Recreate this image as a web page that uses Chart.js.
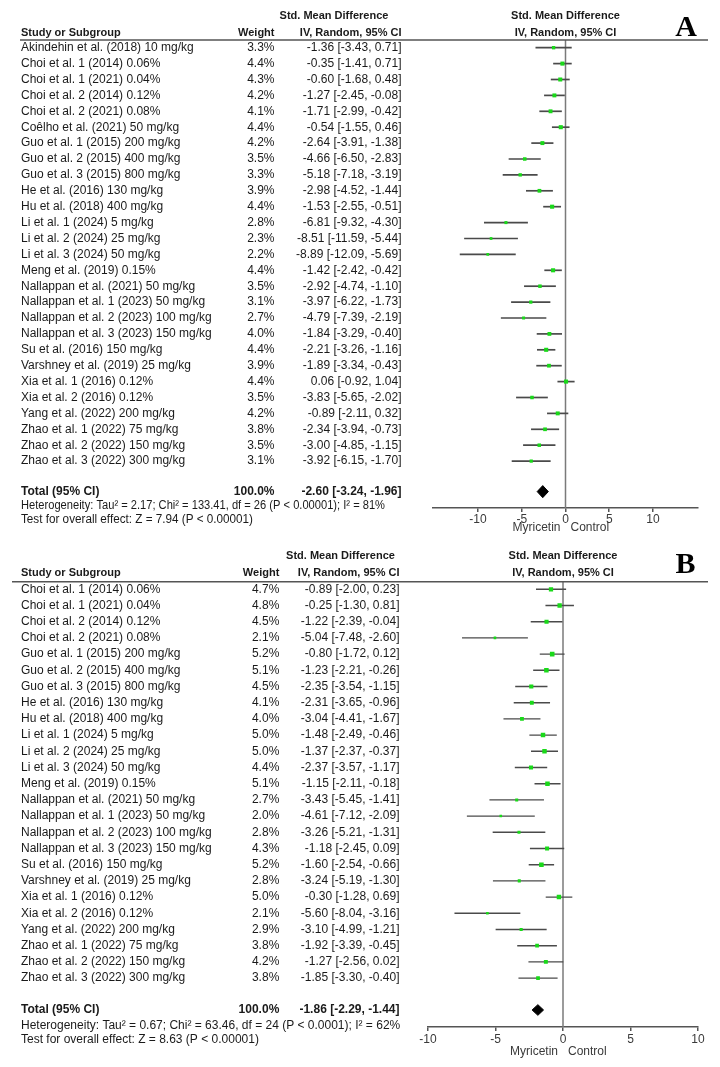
<!DOCTYPE html>
<html>
<head>
<meta charset="utf-8">
<script src="https://cdn.jsdelivr.net/npm/chart.js@4.4.1/dist/chart.umd.min.js"></script>
<style>
  html, body { margin: 0; padding: 0; background: #fff; }
  #wrap { position: relative; width: 720px; height: 1067px; }
  canvas { position: absolute; left: 0; }
</style>
</head>
<body>
<div id="wrap">
  <canvas id="forestA" width="720" height="540" style="top:0"></canvas>
  <canvas id="forestB" width="720" height="527" style="top:540px"></canvas>
</div>
<script>
// ---- Panel A ----
const studiesA = [
    'Akindehin et al. (2018) 10 mg/kg', 'Choi et al. 1 (2014) 0.06%', 'Choi et al. 1 (2021) 0.04%',
    'Choi et al. 2 (2014) 0.12%', 'Choi et al. 2 (2021) 0.08%', 'Coêlho et al. (2021) 50 mg/kg',
    'Guo et al. 1 (2015) 200 mg/kg', 'Guo et al. 2 (2015) 400 mg/kg', 'Guo et al. 3 (2015) 800 mg/kg',
    'He et al. (2016) 130 mg/kg', 'Hu et al. (2018) 400 mg/kg', 'Li et al. 1 (2024) 5 mg/kg',
    'Li et al. 2 (2024) 25 mg/kg', 'Li et al. 3 (2024) 50 mg/kg', 'Meng et al. (2019) 0.15%',
    'Nallappan et al. (2021) 50 mg/kg', 'Nallappan et al. 1 (2023) 50 mg/kg', 'Nallappan et al. 2 (2023) 100 mg/kg',
    'Nallappan et al. 3 (2023) 150 mg/kg', 'Su et al. (2016) 150 mg/kg', 'Varshney et al. (2019) 25 mg/kg',
    'Xia et al. 1 (2016) 0.12%', 'Xia et al. 2 (2016) 0.12%', 'Yang et al. (2022) 200 mg/kg',
    'Zhao et al. 1 (2022) 75 mg/kg', 'Zhao et al. 2 (2022) 150 mg/kg', 'Zhao et al. 3 (2022) 300 mg/kg'
];
const weightsA = [3.3, 4.4, 4.3, 4.2, 4.1, 4.4, 4.2, 3.5, 3.3, 3.9, 4.4, 2.8, 2.3, 2.2, 4.4, 3.5, 3.1, 2.7, 4.0, 4.4, 3.9, 4.4, 3.5, 4.2, 3.8, 3.5, 3.1];
const smdA = [-1.36, -0.35, -0.60, -1.27, -1.71, -0.54, -2.64, -4.66, -5.18, -2.98, -1.53, -6.81, -8.51, -8.89, -1.42, -2.92, -3.97, -4.79, -1.84, -2.21, -1.89, 0.06, -3.83, -0.89, -2.34, -3.00, -3.92];
const lowerA = [-3.43, -1.41, -1.68, -2.45, -2.99, -1.55, -3.91, -6.50, -7.18, -4.52, -2.55, -9.32, -11.59, -12.09, -2.42, -4.74, -6.22, -7.39, -3.29, -3.26, -3.34, -0.92, -5.65, -2.11, -3.94, -4.85, -6.15];
const upperA = [0.71, 0.71, 0.48, -0.08, -0.42, 0.46, -1.38, -2.83, -3.19, -1.44, -0.51, -4.30, -5.44, -5.69, -0.42, -1.10, -1.73, -2.19, -0.40, -1.16, -0.43, 1.04, -2.02, 0.32, -0.73, -1.15, -1.70];
const totalA = [-2.60, -3.24, -1.96]; // estimate, lower, upper
const footA = [
    'Heterogeneity: Tau\u00b2 = 2.17; Chi\u00b2 = 133.41, df = 26 (P < 0.00001); I\u00b2 = 81%',
    'Test for overall effect: Z = 7.94 (P < 0.00001)'
];
const xTicksA = [-10, -5, 0, 5, 10];

// ---- Panel B ----
const studiesB = [
    'Choi et al. 1 (2014) 0.06%', 'Choi et al. 1 (2021) 0.04%', 'Choi et al. 2 (2014) 0.12%',
    'Choi et al. 2 (2021) 0.08%', 'Guo et al. 1 (2015) 200 mg/kg', 'Guo et al. 2 (2015) 400 mg/kg',
    'Guo et al. 3 (2015) 800 mg/kg', 'He et al. (2016) 130 mg/kg', 'Hu et al. (2018) 400 mg/kg',
    'Li et al. 1 (2024) 5 mg/kg', 'Li et al. 2 (2024) 25 mg/kg', 'Li et al. 3 (2024) 50 mg/kg',
    'Meng et al. (2019) 0.15%', 'Nallappan et al. (2021) 50 mg/kg', 'Nallappan et al. 1 (2023) 50 mg/kg',
    'Nallappan et al. 2 (2023) 100 mg/kg', 'Nallappan et al. 3 (2023) 150 mg/kg', 'Su et al. (2016) 150 mg/kg',
    'Varshney et al. (2019) 25 mg/kg', 'Xia et al. 1 (2016) 0.12%', 'Xia et al. 2 (2016) 0.12%',
    'Yang et al. (2022) 200 mg/kg', 'Zhao et al. 1 (2022) 75 mg/kg', 'Zhao et al. 2 (2022) 150 mg/kg',
    'Zhao et al. 3 (2022) 300 mg/kg'
];
const weightsB = [4.7, 4.8, 4.5, 2.1, 5.2, 5.1, 4.5, 4.1, 4.0, 5.0, 5.0, 4.4, 5.1, 2.7, 2.0, 2.8, 4.3, 5.2, 2.8, 5.0, 2.1, 2.9, 3.8, 4.2, 3.8];
const smdB = [-0.89, -0.25, -1.22, -5.04, -0.80, -1.23, -2.35, -2.31, -3.04, -1.48, -1.37, -2.37, -1.15, -3.43, -4.61, -3.26, -1.18, -1.60, -3.24, -0.30, -5.60, -3.10, -1.92, -1.27, -1.85];
const lowerB = [-2.00, -1.30, -2.39, -7.48, -1.72, -2.21, -3.54, -3.65, -4.41, -2.49, -2.37, -3.57, -2.11, -5.45, -7.12, -5.21, -2.45, -2.54, -5.19, -1.28, -8.04, -4.99, -3.39, -2.56, -3.30];
const upperB = [0.23, 0.81, -0.04, -2.60, 0.12, -0.26, -1.15, -0.96, -1.67, -0.46, -0.37, -1.17, -0.18, -1.41, -2.09, -1.31, 0.09, -0.66, -1.30, 0.69, -3.16, -1.21, -0.45, 0.02, -0.40];
const totalB = [-1.86, -2.29, -1.44];
const footB = [
    'Heterogeneity: Tau\u00b2 = 0.67; Chi\u00b2 = 63.46, df = 24 (P < 0.0001); I\u00b2 = 62%',
    'Test for overall effect: Z = 8.63 (P < 0.00001)'
];
const xTicksB = [-10, -5, 0, 5, 10];

const SANS = '"Liberation Sans", Arial, sans-serif';
const colors = {
    text: '#1a1a1a',
    rule: '#555555',
    whisker: '#4a4a4a',
    zero: '#7a7a7a',
    square: '#19d919',
    axisText: '#3a3a3a',
};

function fmtCI(est, lo, hi) {
    return est.toFixed(2) + ' [' + lo.toFixed(2) + ', ' + hi.toFixed(2) + ']';
}

// draws the study table, headers and footers next to the plot, row positions come from the y scale
function tablePlugin(d, L) {
    return {
        id: 'forestTable' + L.letter,
        afterDraw(chart) {
            const ctx = chart.ctx;
            const area = chart.chartArea;
            const ys = chart.scales.y;
            const x0 = chart.scales.x.getPixelForValue(0);
            const row = i => ys.getPixelForValue(i);

            ctx.save();
            ctx.fillStyle = colors.text;
            ctx.textBaseline = 'middle';

            // header
            ctx.font = 'bold 11px ' + SANS;
            ctx.textAlign = 'left';
            ctx.fillText('Study or Subgroup', L.nameX, L.headY2);
            ctx.textAlign = 'right';
            ctx.fillText('Weight', L.weightX, L.headY2);
            ctx.fillText('IV, Random, 95% CI', L.ciX, L.headY2);
            ctx.textAlign = 'center';
            ctx.fillText('Std. Mean Difference', L.smdHeadX, L.headY1);
            ctx.fillText('Std. Mean Difference', x0, L.headY1);
            ctx.fillText('IV, Random, 95% CI', x0, L.headY2);

            ctx.strokeStyle = colors.rule;
            ctx.lineWidth = 1.5;
            ctx.beginPath();
            ctx.moveTo(L.ruleX0, area.top);
            ctx.lineTo(L.ruleX1, area.top);
            ctx.stroke();

            // panel letter
            ctx.save();
            ctx.font = 'bold 30px "Liberation Serif", "Times New Roman", serif';
            ctx.textAlign = 'center';
            ctx.textBaseline = 'alphabetic';
            ctx.fillStyle = '#000';
            ctx.fillText(L.letter, L.letterX, L.letterY);
            ctx.restore();

            // study rows
            ctx.font = '12px ' + SANS;
            d.studies.forEach((name, i) => {
                const y = row(i);
                ctx.textAlign = 'left';
                ctx.fillText(name, L.nameX, y);
                ctx.textAlign = 'right';
                ctx.fillText(d.weights[i].toFixed(1) + '%', L.weightX, y);
                ctx.fillText(fmtCI(d.smd[i], d.lower[i], d.upper[i]), L.ciX, y);
            });

            // total row
            const ty = row(L.totalRow);
            ctx.font = 'bold 12px ' + SANS;
            ctx.textAlign = 'left';
            ctx.fillText('Total (95% CI)', L.nameX, ty, L.totalW);
            ctx.textAlign = 'right';
            ctx.fillText('100.0%', L.weightX, ty);
            ctx.fillText(fmtCI(d.total[0], d.total[1], d.total[2]), L.ciX, ty, L.totalCiW);

            // footer
            ctx.font = '12px ' + SANS;
            ctx.textAlign = 'left';
            ctx.fillText(d.foot[0], L.nameX, area.bottom + L.hetDy, L.hetW);
            ctx.fillText(d.foot[1], L.nameX, area.bottom + L.testDy, L.testW);

            // favours labels
            ctx.fillStyle = colors.axisText;
            ctx.textAlign = 'right';
            ctx.fillText('Myricetin', x0 - 5, area.bottom + L.favDy);
            ctx.textAlign = 'left';
            ctx.fillText('Control', x0 + 5, area.bottom + L.favDy);
            ctx.restore();
        }
    };
}

function buildForest(canvasId, d, L) {
    const points = {
        data: d.smd.map((v, i) => ({x: v, y: i})),
        pointStyle: 'rect',
        pointRadius: d.weights.map(w => 0.9 + w * 0.45),
        backgroundColor: colors.square,
        borderWidth: 0,
    };
    const whiskers = d.lower.map((lo, i) => ({
        data: [{x: lo, y: i}, {x: d.upper[i], y: i}],
        showLine: true,
        borderColor: colors.whisker,
        borderWidth: L.whiskerW,
        pointRadius: 0,
    }));
    const zeroLine = {
        data: [{x: 0, y: L.yMin}, {x: 0, y: L.yMax}],
        showLine: true,
        borderColor: colors.zero,
        borderWidth: 1.5,
        pointRadius: 0,
    };
    const t = d.total;
    const diamond = {
        data: [
            {x: t[1], y: L.totalRow},
            {x: t[0], y: L.totalRow - L.diamondH},
            {x: t[2], y: L.totalRow},
            {x: t[0], y: L.totalRow + L.diamondH},
            {x: t[1], y: L.totalRow}
        ],
        showLine: true,
        fill: 'shape',
        backgroundColor: '#000',
        borderColor: '#000',
        borderWidth: 1,
        pointRadius: 0,
    };

    return new Chart(document.getElementById(canvasId), {
        type: 'scatter',
        data: { datasets: [points, ...whiskers, zeroLine, diamond] },
        options: {
            responsive: false,
            animation: false,
            events: [],
            layout: { padding: { left: L.left, right: 720 - L.right, top: L.top, bottom: 0 } },
            scales: {
                x: {
                    type: 'linear',
                    min: L.xMin,
                    max: L.xMax,
                    afterBuildTicks: s => { s.ticks = d.ticks.map(v => ({value: v})); },
                    afterFit: s => { s.height = L.axisH; },
                    border: { color: colors.rule, width: 1.5 },
                    grid: { drawOnChartArea: false, drawTicks: true, tickLength: 4, color: colors.rule, lineWidth: 1.5 },
                    ticks: { color: colors.axisText, padding: L.tickPad, maxRotation: 0, autoSkip: false, font: { size: 12, family: SANS } }
                },
                y: {
                    type: 'linear',
                    reverse: true,
                    min: L.yMin,
                    max: L.yMax,
                    display: false
                }
            },
            plugins: {
                legend: { display: false },
                tooltip: { enabled: false }
            }
        },
        plugins: [tablePlugin(d, L)]
    });
}

buildForest('forestA',
    { studies: studiesA, weights: weightsA, smd: smdA, lower: lowerA, upper: upperA, total: totalA, foot: footA, ticks: xTicksA },
    {
        letter: 'A', letterX: 686, letterY: 36,
        top: 40, left: 433, right: 698, axisH: 32, tickPad: 0,
        xMin: -15.15, xMax: 15.15, yMin: -0.484, yMax: 28.95, totalRow: 27.92, diamondH: 0.38,
        nameX: 21, weightX: 274.5, ciX: 401.5, smdHeadX: 334, headY1: 16, headY2: 32.5,
        ruleX0: 20, ruleX1: 708, whiskerW: 1.7,
        totalW: 82, totalCiW: 104, hetW: 364, testW: 232,
        hetDy: -2, testDy: 12, favDy: 20
    });

buildForest('forestB',
    { studies: studiesB, weights: weightsB, smd: smdB, lower: lowerB, upper: upperB, total: totalB, foot: footB, ticks: xTicksB },
    {
        letter: 'B', letterX: 685.5, letterY: 33,
        top: 41.7, left: 428, right: 698, axisH: 40, tickPad: 1,
        xMin: -10, xMax: 10, yMin: -0.47, yMax: 27.02, totalRow: 25.97, diamondH: 0.33,
        nameX: 21, weightX: 279.3, ciX: 399.5, smdHeadX: 340.5, headY1: 16, headY2: 32.7,
        ruleX0: 12, ruleX1: 708, whiskerW: 1.4,
        totalW: 999, totalCiW: 999, hetW: 999, testW: 999,
        hetDy: -1.5, testDy: 12.5, favDy: 24.5
    });
</script>
</body>
</html>
